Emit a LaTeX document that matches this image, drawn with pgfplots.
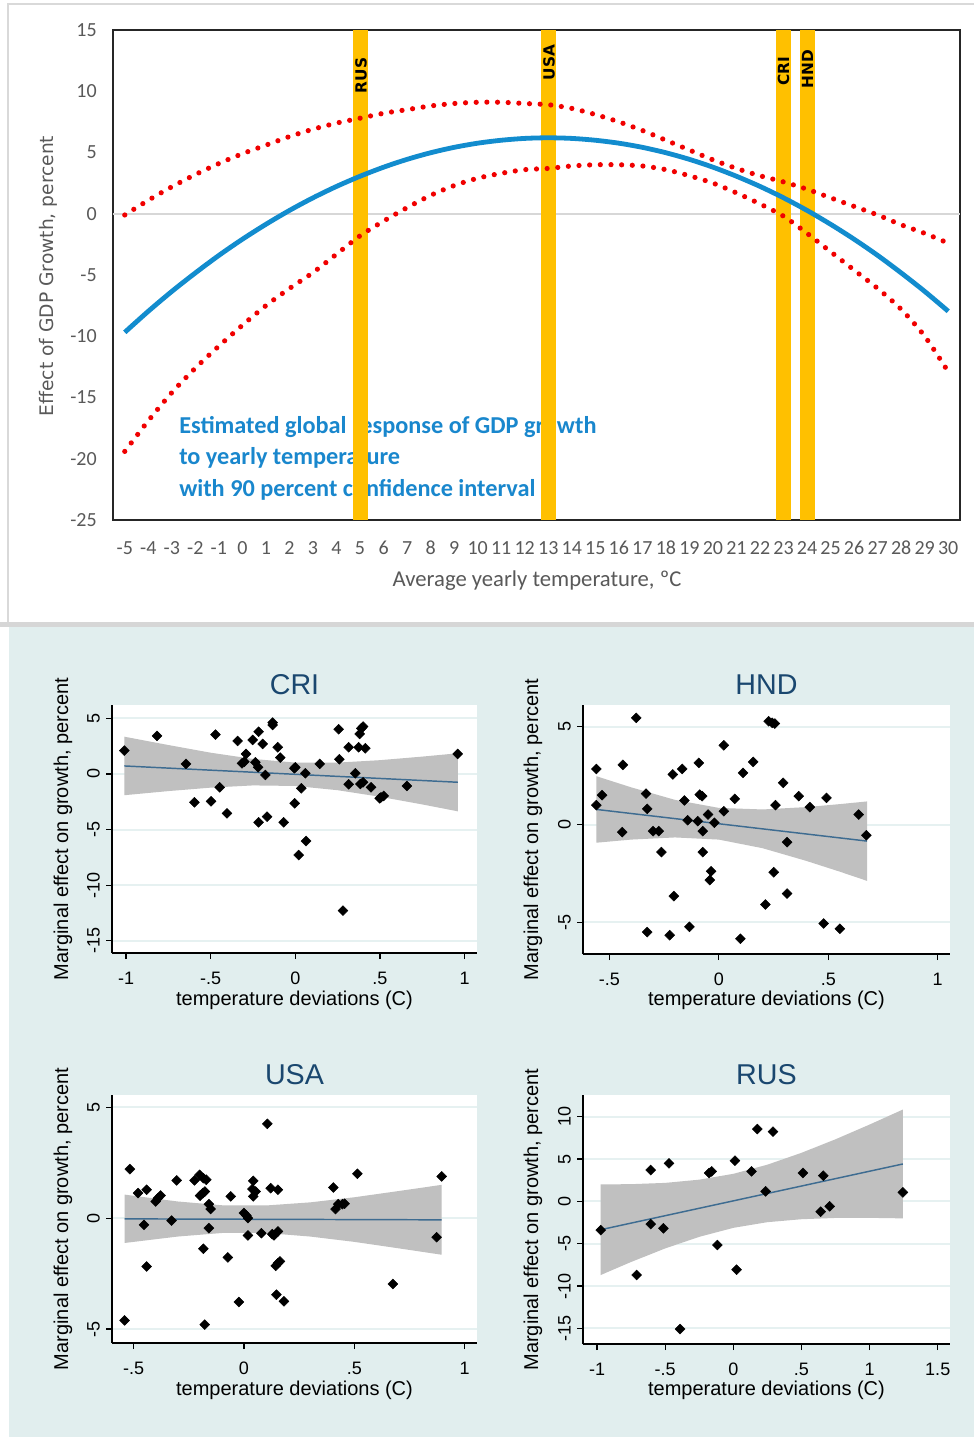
\documentclass[border=0pt]{standalone}
\usepackage{fontspec}
\setmainfont{Liberation Sans}
\newfontfamily\carlito{Carlito}
\newfontfamily\dejavu{DejaVu Sans}
\usepackage{pgfplots}
\pgfplotsset{compat=1.18}
\definecolor{panelbg}{RGB}{225,238,238}
\definecolor{gridc}{RGB}{230,241,241}
\definecolor{bandg}{RGB}{192,192,192}
\definecolor{fitc}{RGB}{62,108,145}
\definecolor{statanavy}{RGB}{26,71,111}
\definecolor{gold}{RGB}{255,192,0}
\definecolor{curveblue}{RGB}{18,140,206}
\definecolor{textblue}{RGB}{25,135,205}
\definecolor{tgray}{RGB}{89,89,89}
\definecolor{zerog}{RGB}{215,215,215}
\definecolor{ptred}{RGB}{240,0,0}
\pgfplotsset{
  stata/.style={
    scale only axis,
    axis x line*=bottom, axis y line*=left,
    axis line style={-, black, line width=0.9pt},
    axis background/.style={fill=white},
    ymajorgrids, grid style={gridc, line width=1.5pt},
    tick align=outside, major tick length=4.5pt,
    tick style={black, line width=0.9pt},
    minor tick num=0,
    tick label style={font=\fontsize{13.5}{14}\selectfont, inner sep=0pt},
    /pgf/number format/assume math mode=true,
    xticklabel style={anchor=north, yshift=-9.4pt},
    yticklabel style={xshift=-4.5pt, rotate=90, anchor=south},
  },
  dots/.style={only marks, mark=square*, mark size=2.6pt, mark options={rotate=45, fill=black, draw=black}},
  fit/.style={fitc, line width=1.1pt, no marks},
  band/.style={fill=bandg, draw=none, no marks},
}
\begin{document}
\begin{tikzpicture}[x=0.75pt, y=-0.75pt]
% page and panels
\fill[white] (0,0) rectangle (974,1437);
\draw[black!15, line width=1.5pt] (8,624) -- (8,4) -- (974,4);
\fill[black!16] (0,622) rectangle (974,627);
\fill[panelbg] (9,627) rectangle (974,1437);

% annotation text (below the bars)
\node[anchor=west, inner sep=0pt, text=textblue, font=\carlito\bfseries\fontsize{18.2}{22}\selectfont] at (179,427) {Estimated global response of GDP growth};
\node[anchor=west, inner sep=0pt, text=textblue, font=\carlito\bfseries\fontsize{18.2}{22}\selectfont] at (179,458) {to yearly temperature};
\node[anchor=west, inner sep=0pt, text=textblue, font=\carlito\bfseries\fontsize{18.2}{22}\selectfont] at (179,490) {with 90 percent confidence interval};

\begin{axis}[
  at={(84.75pt,-390pt)}, anchor=south west, scale only axis,
  width=635.25pt, height=367.5pt,
  xmin=-5.5, xmax=30.5, ymin=-25, ymax=15,
  xtick={-5,...,30}, ytick={-25,-20,...,15},
  major tick length=0pt,
  axis line style={black!85, line width=1.7pt},
  tick label style={font=\carlito\fontsize{15}{15}\selectfont, text=tgray, inner sep=0pt},
  /pgf/number format/assume math mode=true,
  xticklabel style={anchor=center, yshift=-21pt},
  yticklabel style={anchor=east, xshift=-12pt},
]
\addplot[zerog, line width=1.5pt] coordinates {(-5.5,0) (30.5,0)};
\addplot[gold, line width=11.25pt] coordinates {(5,-25) (5,15)};
\addplot[gold, line width=11.25pt] coordinates {(13,-25) (13,15)};
\addplot[gold, line width=11.25pt] coordinates {(23,-25) (23,15)};
\addplot[gold, line width=11.25pt] coordinates {(24,-25) (24,15)};
% upper bound
\addplot[ptred, line width=3.9pt, line cap=round, dash pattern=on 0pt off 8pt, smooth] coordinates {
(-5,-0.1) (-4,1.1) (-3,2.2) (-2,3.2) (-1,4.1) (0,4.9) (1,5.6) (2,6.3) (3,6.9) (4,7.4)
(5,7.8) (6,8.2) (7,8.5) (8,8.8) (9,9.0) (10,9.1) (11,9.1) (12,9.0) (13,8.9) (14,8.6)
(15,8.1) (16,7.5) (17,6.8) (18,6.0) (19,5.2) (20,4.4) (21,3.7) (22,3.1) (23,2.6) (24,2.0)
(25,1.3) (26,0.6) (27,-0.1) (28,-0.9) (29,-1.6) (30,-2.4)};
% lower bound
\addplot[ptred, line width=3.9pt, line cap=round, dash pattern=on 0pt off 8pt, smooth] coordinates {
(-5,-19.4) (-4,-16.9) (-3,-14.6) (-2,-12.6) (-1,-10.8) (0,-9.1) (1,-7.5) (2,-6.1) (3,-4.8) (4,-3.3)
(5,-1.8) (6,-0.6) (7,0.5) (8,1.5) (9,2.3) (10,2.9) (11,3.3) (12,3.6) (13,3.7) (14,3.9)
(15,4.0) (16,4.0) (17,3.9) (18,3.6) (19,3.1) (20,2.5) (21,1.7) (22,0.8) (23,-0.2) (24,-1.6)
(25,-3.1) (26,-4.6) (27,-6.1) (28,-7.8) (29,-10.0) (30,-12.9)};
% estimate
\addplot[curveblue, line width=3.6pt, smooth] coordinates {
(-5,-9.68) (-4,-7.96) (-3,-6.34) (-2,-4.83) (-1,-3.40) (0,-2.08) (1,-0.86) (2,0.27) (3,1.30) (4,2.23)
(5,3.06) (6,3.80) (7,4.44) (8,4.98) (9,5.42) (10,5.76) (11,6.00) (12,6.15) (13,6.20) (14,6.15)
(15,6.00) (16,5.76) (17,5.42) (18,4.98) (19,4.44) (20,3.80) (21,3.06) (22,2.23) (23,1.30) (24,0.27)
(25,-0.86) (26,-2.08) (27,-3.40) (28,-4.83) (29,-6.34) (30,-7.96)};
\end{axis}
\node[rotate=90, font=\dejavu\bfseries\fontsize{11.5}{11.5}\selectfont] at (361,75.5) {RUS};
\node[rotate=90, font=\dejavu\bfseries\fontsize{11.5}{11.5}\selectfont] at (549,62.5) {USA};
\node[rotate=90, font=\dejavu\bfseries\fontsize{11.5}{11.5}\selectfont] at (783.5,71.5) {CRI};
\node[rotate=90, font=\dejavu\bfseries\fontsize{11.5}{11.5}\selectfont] at (807.5,69) {HND};
\node[rotate=90, text=tgray, font=\dejavu\fontsize{14}{14}\selectfont] at (48,276) {Effect of GDP Growth, percent};
\node[text=tgray, font=\carlito\fontsize{17}{17}\selectfont] at (537,581) {Average yearly temperature, ºC};

% ---------- CRI ----------
\begin{axis}[stata, at={(84pt,-714.75pt)}, anchor=south west, width=273.75pt, height=186pt,
  xmin=-1.083, xmax=1.073, ymin=-16.1, ymax=6.2,
  xtick={-1,-0.5,0,0.5,1}, xticklabels={-1,-.5,0,.5,1},
  ytick={-15,-10,-5,0,5}, yticklabels={-15,-10,-5,0,5}]
\addplot[band] coordinates {(-1.01,3.35) (-0.75,2.60) (-0.5,1.91) (-0.25,1.35) (0,1.02) (0.25,1.02) (0.5,1.24) (0.75,1.56) (0.96,1.86)
 (0.96,-3.36) (0.75,-2.74) (0.5,-2.05) (0.25,-1.46) (0,-1.08) (-0.25,-1.03) (-0.5,-1.23) (-0.75,-1.54) (-1.01,-1.91)};
\addplot[fit] coordinates {(-1.01,0.72) (0.96,-0.746)};
\addplot[dots] coordinates {
(-1.01,2.1) (-0.817,3.42) (-0.646,0.9) (-0.596,-2.55) (-0.498,-2.46) (-0.472,3.54) (-0.447,-1.2) (-0.404,-3.54)
(-0.341,2.97) (-0.315,0.96) (-0.301,1.1) (-0.291,1.8) (-0.252,3.06) (-0.236,1.05) (-0.22,0.6) (-0.217,3.8)
(-0.217,-4.35) (-0.193,2.7) (-0.177,-0.09) (-0.167,-3.84) (-0.134,4.62) (-0.134,4.4) (-0.104,2.4) (-0.089,1.47)
(-0.069,-4.35) (-0.006,0.51) (-0.004,-2.64) (0.0,0.6) (0.02,-7.29) (0.035,-1.29) (0.059,0.06) (0.063,-6.03)
(0.144,0.9) (0.256,4.02) (0.26,1.32) (0.281,-12.29) (0.315,2.4) (0.315,-0.93) (0.354,0.06) (0.374,2.4)
(0.38,3.6) (0.39,4.1) (0.4,4.26) (0.384,-0.9) (0.4,-0.75) (0.413,2.31) (0.447,-1.2) (0.498,-2.19)
(0.506,-2.1) (0.522,-1.98) (0.659,-1.08) (0.959,1.8)};
\end{axis}

% ---------- HND ----------
\begin{axis}[stata, at={(437.25pt,-715.5pt)}, anchor=south west, width=275.25pt, height=186.75pt,
  xmin=-0.62, xmax=1.056, ymin=-6.62, ymax=6.11,
  xtick={-0.5,0,0.5,1}, xticklabels={-.5,0,.5,1},
  ytick={-5,0,5}, yticklabels={-5,0,5}]
\addplot[band] coordinates {(-0.559,2.47) (-0.4,1.90) (-0.2,1.26) (0,0.85) (0.2,0.77) (0.4,0.89) (0.55,1.04) (0.677,1.18)
 (0.677,-2.88) (0.55,-2.40) (0.4,-1.86) (0.2,-1.21) (0,-0.77) (-0.2,-0.66) (-0.4,-0.77) (-0.559,-0.93)};
\addplot[fit] coordinates {(-0.559,0.772) (0.677,-0.847)};
\addplot[dots] coordinates {
(-0.559,2.84) (-0.559,0.99) (-0.533,1.5) (-0.438,3.05) (-0.441,-0.39) (-0.377,5.45) (-0.332,1.58) (-0.327,0.8)
(-0.327,-5.5) (-0.3,-0.34) (-0.274,-0.34) (-0.262,-1.41) (-0.224,-5.66) (-0.21,2.56) (-0.205,-3.66) (-0.167,2.84)
(-0.157,1.23) (-0.142,0.22) (-0.134,-5.23) (-0.096,0.17) (-0.091,3.15) (-0.087,1.53) (-0.076,1.45) (-0.073,-0.34)
(-0.073,-1.41) (-0.049,0.51) (-0.035,-2.39) (-0.041,-2.84) (-0.02,0.09) (0.023,4.05) (0.023,0.68) (0.073,1.31)
(0.099,-5.84) (0.111,2.64) (0.157,3.2) (0.213,-4.09) (0.228,5.28) (0.244,5.2) (0.256,5.16) (0.251,-2.44)
(0.259,0.99) (0.294,2.13) (0.312,-0.9) (0.312,-3.53) (0.365,1.45) (0.416,0.89) (0.492,1.36) (0.479,-5.06)
(0.553,-5.33) (0.639,0.51) (0.674,-0.55)};
\end{axis}

% ---------- USA ----------
\begin{axis}[stata, at={(84pt,-1007.25pt)}, anchor=south west, width=273.75pt, height=186pt,
  xmin=-0.598, xmax=1.056, ymin=-5.63, ymax=5.55,
  xtick={-0.5,0,0.5,1}, xticklabels={-.5,0,.5,1},
  ytick={-5,0,5}, yticklabels={-5,0,5}]
\addplot[band] coordinates {(-0.541,1.06) (-0.3,0.75) (-0.1,0.58) (0.1,0.57) (0.3,0.71) (0.5,0.94) (0.7,1.22) (0.896,1.50)
 (0.896,-1.65) (0.7,-1.36) (0.5,-1.07) (0.3,-0.83) (0.1,-0.67) (-0.1,-0.67) (-0.3,-0.83) (-0.541,-1.12)};
\addplot[fit] coordinates {(-0.541,-0.034) (0.896,-0.077)};
\addplot[dots] coordinates {
(-0.541,-4.61) (-0.517,2.21) (-0.48,1.13) (-0.453,-0.3) (-0.441,1.28) (-0.441,-2.18) (-0.4,0.75) (-0.39,0.9)
(-0.378,1.02) (-0.328,-0.11) (-0.305,1.70) (-0.224,1.70) (-0.201,1.95) (-0.184,1.80) (-0.171,1.73) (-0.199,1.01)
(-0.186,1.13) (-0.177,1.20) (-0.184,-1.38) (-0.178,-4.80) (-0.159,0.63) (-0.151,0.41) (-0.159,-0.45) (-0.073,-1.77)
(-0.06,0.98) (-0.023,-3.78) (0,0.23) (0.011,0.12) (0.018,0.0) (0.018,-0.78) (0.042,1.68) (0.038,1.31)
(0.042,0.98) (0.053,1.20) (0.079,-0.68) (0.106,4.25) (0.121,1.35) (0.128,-0.72) (0.136,-0.78) (0.144,-2.15)
(0.147,-3.45) (0.154,1.28) (0.154,-0.6) (0.154,-2.03) (0.163,-1.95) (0.181,-3.75) (0.405,1.38) (0.415,0.41)
(0.427,0.63) (0.446,0.63) (0.456,0.65) (0.514,2.0) (0.675,-2.97) (0.873,-0.86) (0.896,1.88)};
\end{axis}

% ---------- RUS ----------
\begin{axis}[stata, at={(437.25pt,-1008pt)}, anchor=south west, width=275.25pt, height=186.75pt,
  xmin=-1.103, xmax=1.59, ymin=-16.85, ymax=12.56,
  xtick={-1,-0.5,0,0.5,1,1.5}, xticklabels={-1,-.5,0,.5,1,1.5},
  ytick={-15,-10,-5,0,5,10}, yticklabels={-15,-10,-5,0,5,10}]
\addplot[band] coordinates {(-0.973,2.00) (-0.75,2.03) (-0.5,2.18) (-0.25,2.56) (0,3.25) (0.25,4.33) (0.5,5.73) (0.75,7.33) (1.0,9.07) (1.244,10.84)
 (1.244,-2.01) (1.0,-1.95) (0.75,-1.96) (0.5,-2.11) (0.25,-2.46) (0,-3.13) (-0.25,-4.19) (-0.5,-5.56) (-0.75,-7.16) (-0.973,-8.70)};
\addplot[fit] coordinates {(-0.973,-3.35) (1.244,4.414)};
\addplot[dots] coordinates {
(-0.973,-3.39) (-0.709,-8.70) (-0.606,3.70) (-0.606,-2.68) (-0.513,-3.19) (-0.472,4.49) (-0.391,-15.08)
(-0.178,3.35) (-0.159,3.54) (-0.117,-5.16) (0.012,4.80) (0.024,-8.07) (0.134,3.54) (0.176,8.54)
(0.237,1.18) (0.291,8.23) (0.511,3.35) (0.641,-1.22) (0.66,3.03) (0.707,-0.59) (1.244,1.06)};
\end{axis}

% titles and axis titles of the small panels
\foreach \cx/\cy/\ty/\lx/\name in {294.5/829/685/63/CRI, 766.5/829.5/685/533/HND, 294.5/1219/1075/63/USA, 766.5/1219.5/1075/533/RUS}{
  \node[text=statanavy, font=\fontsize{21.5}{24}\selectfont] at (\cx,\ty) {\name};
  \node[font=\fontsize{15}{16}\selectfont] at (\cx,\ty+315) {temperature deviations (C)};
  \node[rotate=90, font=\fontsize{15}{16}\selectfont] at (\lx,\cy) {Marginal effect on growth, percent};
}
\end{tikzpicture}
\end{document}
